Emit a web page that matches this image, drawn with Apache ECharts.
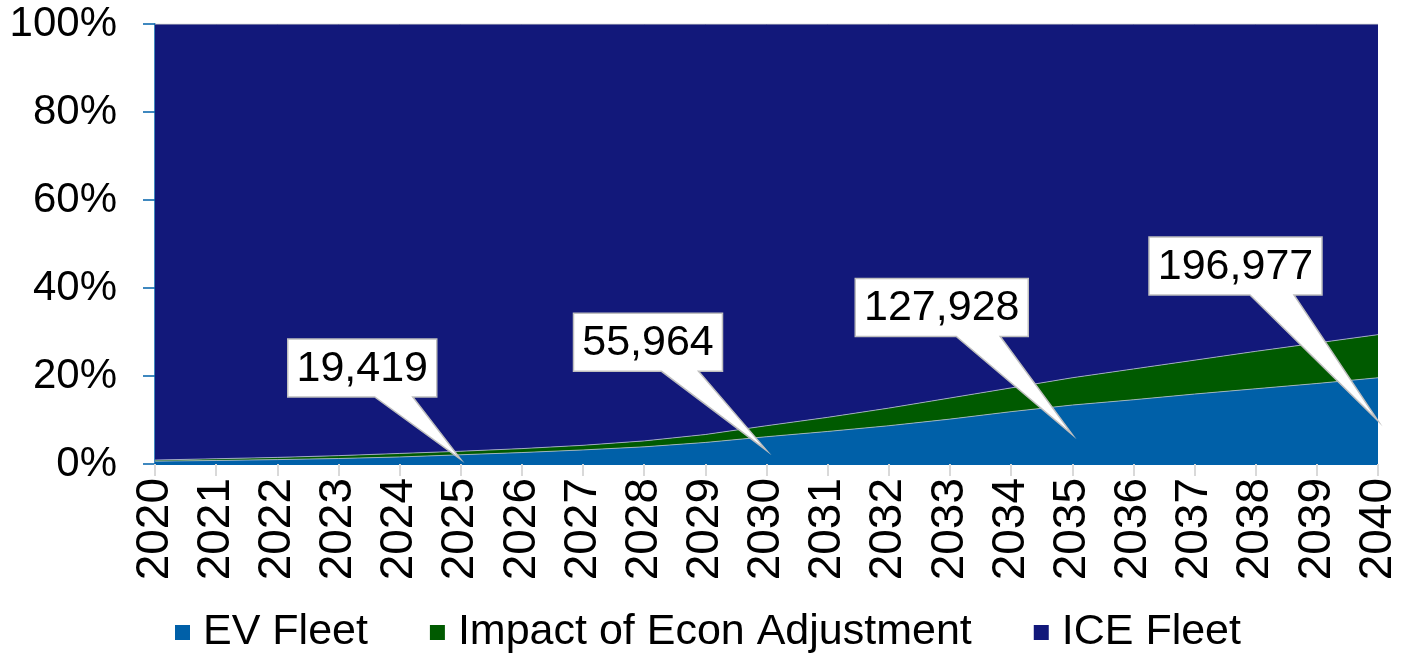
<!DOCTYPE html>
<html>
<head>
<meta charset="utf-8">
<script src="https://cdn.jsdelivr.net/npm/echarts@6/dist/echarts.min.js"></script>
<style>
html,body{margin:0;padding:0;background:#fff;}
#chart{width:1401px;height:655px;}
</style>
</head>
<body>
<div id="chart"></div>
<script>
const years = ['2020','2021','2022','2023','2024','2025','2026','2027','2028','2029','2030','2031','2032','2033','2034','2035','2036','2037','2038','2039','2040'];
const evShare   = [0.65, 0.8, 1.0, 1.25, 1.6, 2.1, 2.6, 3.2, 3.9, 4.9, 6.2, 7.4, 8.7, 10.2, 11.9, 13.4, 14.6, 15.9, 17.1, 18.3, 19.6];
const econShare = [0.25, 0.4, 0.5, 0.65, 0.8, 0.8, 0.9, 1.05, 1.35, 1.8, 2.5, 3.2, 4.0, 4.8, 5.4, 6.2, 7.0, 7.7, 8.5, 9.2, 9.8];
const iceShare  = [99.1, 98.8, 98.5, 98.1, 97.6, 97.1, 96.5, 95.75, 94.75, 93.3, 91.3, 89.4, 87.3, 85.0, 82.7, 80.4, 78.4, 76.4, 74.4, 72.5, 70.6];
const calloutYears  = ['2025', '2030', '2035', '2040'];
const calloutLabels = ['19,419', '55,964', '127,928', '196,977'];
const yTicks = [0, 20, 40, 60, 80, 100];

const FONT = '"Liberation Sans", Arial, sans-serif';
// callout geometry relative to the pointer tip (pixels): box centre, box size, pointer base
const calloutGeom = [
  {cx: -98.5, cy: -91.5, w: 149, h: 58, b1: -86, b2: -48},
  {cx: -118.5, cy: -108, w: 149, h: 58, b1: -105, b2: -68},
  {cx: -130.5, cy: -127, w: 173, h: 58, b1: -116, b2: -72},
  {cx: -142.5, cy: -155, w: 173, h: 58, b1: -128, b2: -84}
];

const calloutData = calloutYears.map((y, k) => {
  const idx = years.indexOf(y);
  return [idx, evShare[idx] / 2, calloutLabels[k]];
});

const chart = echarts.init(document.getElementById('chart'), null, {renderer: 'canvas'});
const areaLine = {width: 1, color: 'rgba(190,195,215,0.75)'};
chart.setOption({
  animation: false,
  backgroundColor: '#ffffff',
  grid: {left: 155, right: 21, top: 24, bottom: 191},
  legend: {
    data: ['EV Fleet', 'Impact of Econ Adjustment', 'ICE Fleet'],
    left: 170, bottom: -4,
    icon: 'rect', itemWidth: 15, itemHeight: 15, itemGap: 62,
    textStyle: {fontFamily: FONT, fontSize: 43, color: '#000', padding: [0, 0, 0, 8]}
  },
  xAxis: {
    type: 'category', data: years, boundaryGap: false,
    axisLine: {show: true, lineStyle: {color: '#0061AA', width: 1}},
    axisTick: {show: true, length: 12, lineStyle: {color: '#D9D9D9', width: 2}},
    axisLabel: {rotate: 90, fontFamily: FONT, fontSize: 46, color: '#000', margin: 14, interval: 0},
    splitLine: {show: false}
  },
  yAxis: {
    type: 'value', min: 0, max: 100, interval: 20,
    axisLine: {show: true, lineStyle: {color: '#0061AA', width: 1.5}},
    axisTick: {show: true, length: 12, lineStyle: {color: '#0061AA', width: 1.5}},
    axisLabel: {fontFamily: FONT, fontSize: 42, color: '#000', margin: 38,
      formatter: v => yTicks.includes(v) ? v + '%' : ''},
    splitLine: {show: false}
  },
  series: [
    {name: 'EV Fleet', type: 'line', stack: 'all', data: evShare, symbol: 'none',
      lineStyle: areaLine, areaStyle: {color: '#0060A8', opacity: 1}, itemStyle: {color: '#0060A8'}},
    {name: 'Impact of Econ Adjustment', type: 'line', stack: 'all', data: econShare, symbol: 'none',
      lineStyle: areaLine, areaStyle: {color: '#005A00', opacity: 1}, itemStyle: {color: '#005A00'}},
    {name: 'ICE Fleet', type: 'line', stack: 'all', data: iceShare, symbol: 'none',
      lineStyle: {width: 1, color: '#C8C8C8'}, areaStyle: {color: '#12187A', opacity: 1}, itemStyle: {color: '#12187A'}},
    {
      name: 'callouts', type: 'custom', coordinateSystem: 'cartesian2d', clip: false, z: 10,
      encode: {x: 0, y: 1}, data: calloutData, silent: true,
      renderItem: function (params, api) {
        const g = calloutGeom[params.dataIndex];
        const tip = api.coord([api.value(0), api.value(1)]);
        const tx = tip[0], ty = tip[1];
        const x0 = tx + g.cx - g.w / 2, x1 = tx + g.cx + g.w / 2;
        const y0 = ty + g.cy - g.h / 2, y1 = ty + g.cy + g.h / 2;
        const pts = [[x0, y0], [x1, y0], [x1, y1], [tx + g.b2, y1], [tx, ty], [tx + g.b1, y1], [x0, y1]];
        return {
          type: 'group',
          children: [
            {type: 'polygon', shape: {points: pts},
              style: {fill: '#ffffff', stroke: '#BFBFBF', lineWidth: 1.5}},
            {type: 'text', x: tx + g.cx, y: ty + g.cy + 1,
              style: {text: calloutData[params.dataIndex][2], fill: '#000', font: '43px ' + FONT,
                textAlign: 'center', textVerticalAlign: 'middle'}}
          ]
        };
      }
    }
  ]
});
</script>
</body>
</html>
